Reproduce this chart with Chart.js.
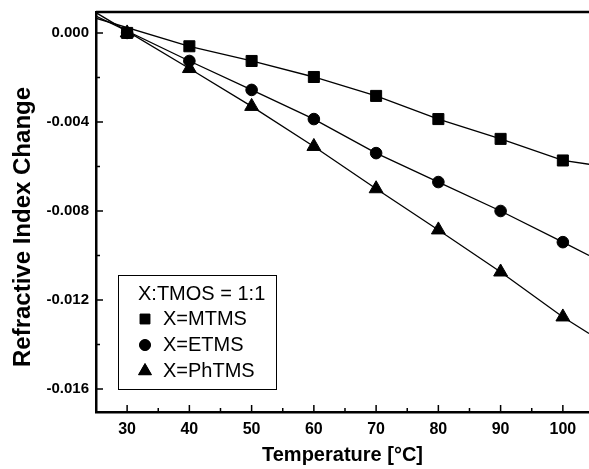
<!DOCTYPE html>
<html>
<head>
<meta charset="utf-8">
<script src="https://cdn.jsdelivr.net/npm/chart.js@4"></script>
<style>
    html, body { margin: 0; padding: 0; background: #fff; }
    #wrap { width: 589px; height: 469px; }
</style>
</head>
<body>
<div id="wrap"><canvas id="chart"></canvas></div>
<script>
// measured points
const temperatures = [30, 40, 50, 60, 70, 80, 90, 100];
const mtms = [0, -0.0006, -0.00126, -0.00198, -0.00283, -0.00387, -0.00476, -0.00573];
const etms = [0, -0.00126, -0.00256, -0.00387, -0.0054, -0.0067, -0.008, -0.0094];
const phtms = [0, -0.0016, -0.0033, -0.0051, -0.007, -0.00885, -0.01074, -0.01276];

const fitTemps = [25, 40, 50, 60, 70, 80, 90, 100, 104.2];
const mtmsFit = [0.00066, -0.0006, -0.00126, -0.00198, -0.00283, -0.00387, -0.00476, -0.00573, -0.0059];
const etmsFit = [0.00076, -0.00126, -0.00256, -0.00387, -0.0054, -0.0067, -0.008, -0.0094, -0.01];
const phtmsFit = [0.00091, -0.0016, -0.0033, -0.0051, -0.007, -0.00885, -0.01074, -0.01276, -0.0135];

const seriesNames = ["X=MTMS", "X=ETMS", "X=PhTMS"];
const legendTitle = "X:TMOS = 1:1";

const xTicks = [30, 40, 50, 60, 70, 80, 90, 100];
const xMinorTicks = [35, 45, 55, 65, 75, 85, 95];
const yTicks = [0, -0.004, -0.008, -0.012, -0.016];
const yMinorTicks = [-0.002, -0.006, -0.01, -0.014];

const FONT = "'Liberation Sans', Arial, sans-serif";
Chart.defaults.font.family = FONT;
Chart.defaults.color = "#000";

const toPoints = (xs, ys) => xs.map((x, i) => ({ x: x, y: ys[i] }));

function fitLine(values) {
    return {
        data: toPoints(fitTemps, values),
        showLine: true,
        borderColor: "#000",
        borderWidth: 1.3,
        pointRadius: 0,
        fill: false,
    };
}

function markers(label, values, style, radius) {
    return {
        label: label,
        data: toPoints(temperatures, values),
        showLine: false,
        pointStyle: style,
        pointRadius: radius,
        pointBorderWidth: 1,
        pointBackgroundColor: "#000",
        pointBorderColor: "#000",
    };
}

// inward ticks, top frame, y title and the boxed legend
const decor = {
    id: "decor",
    afterDraw(chart) {
        const { ctx, chartArea: area, scales } = chart;
        const x = scales.x;
        const y = scales.y;

        ctx.save();
        ctx.strokeStyle = "#000";
        ctx.lineWidth = 1.5;
        ctx.beginPath();
        xTicks.forEach(v => {
            const px = x.getPixelForValue(v);
            ctx.moveTo(px, area.bottom);
            ctx.lineTo(px, area.bottom - 7);
        });
        xMinorTicks.forEach(v => {
            const px = x.getPixelForValue(v);
            ctx.moveTo(px, area.bottom);
            ctx.lineTo(px, area.bottom - 4);
        });
        yTicks.forEach(v => {
            const py = y.getPixelForValue(v);
            ctx.moveTo(area.left, py);
            ctx.lineTo(area.left + 7, py);
        });
        yMinorTicks.forEach(v => {
            const py = y.getPixelForValue(v);
            ctx.moveTo(area.left, py);
            ctx.lineTo(area.left + 4, py);
        });
        ctx.stroke();

        ctx.lineWidth = 2.5;
        ctx.beginPath();
        ctx.moveTo(area.left, area.top);
        ctx.lineTo(area.right, area.top);
        ctx.stroke();

        // y title
        ctx.save();
        ctx.translate(23, 227);
        ctx.rotate(-Math.PI / 2);
        ctx.font = "bold 24px " + FONT;
        ctx.fillStyle = "#000";
        ctx.textAlign = "center";
        ctx.textBaseline = "middle";
        ctx.fillText("Refractive Index Change", 0, 0);
        ctx.restore();

        // legend box
        ctx.lineWidth = 1;
        ctx.strokeRect(118.5, 275.5, 158, 114);
        ctx.font = "20px " + FONT;
        ctx.fillStyle = "#000";
        ctx.textAlign = "left";
        ctx.textBaseline = "middle";
        ctx.fillText(legendTitle, 138, 294);

        const rows = [319, 345, 371];
        const sizes = [7, 5.5, 7.5];
        const markerSets = chart.data.datasets.filter(d => d.label);
        markerSets.forEach((ds, i) => {
            Chart.helpers.drawPoint(ctx, {
                pointStyle: ds.pointStyle,
                radius: sizes[i],
                rotation: 0,
                borderWidth: 1,
            }, 145, rows[i]);
            ctx.fillStyle = "#000";
            ctx.fill();
            ctx.fillText(seriesNames[i], 163, rows[i]);
        });
        ctx.restore();
    },
};

new Chart(document.getElementById("chart"), {
    type: "scatter",
    data: {
        datasets: [
            fitLine(mtmsFit),
            fitLine(etmsFit),
            fitLine(phtmsFit),
            markers(seriesNames[0], mtms, "rect", 7.8),
            markers(seriesNames[1], etms, "circle", 5.8),
            markers(seriesNames[2], phtms, "triangle", 8),
        ],
    },
    options: {
        responsive: true,
        maintainAspectRatio: false,
        animation: false,
        layout: {
            autoPadding: false,
            padding: { top: 12, right: 0, left: 0, bottom: 0 },
        },
        plugins: {
            legend: { display: false },
            tooltip: { enabled: false },
        },
        scales: {
            x: {
                type: "linear",
                min: 25,
                max: 104.2,
                afterBuildTicks: s => { s.ticks = xTicks.map(v => ({ value: v })); },
                afterFit: s => {
                    s.height = 57;
                    s.paddingLeft = 0;
                    s.paddingRight = 0;
                },
                ticks: {
                    font: { size: 16, weight: "bold" },
                    color: "#000",
                    padding: 8,
                    maxRotation: 0,
                    autoSkip: false,
                },
                grid: { display: false, drawTicks: false },
                border: { color: "#000", width: 2.5 },
                title: {
                    display: true,
                    text: "Temperature [°C]",
                    font: { size: 20, weight: "bold" },
                    color: "#000",
                    padding: { top: 0, bottom: 2 },
                },
            },
            y: {
                type: "linear",
                min: -0.01703,
                max: 0.00094,
                afterBuildTicks: s => { s.ticks = yTicks.map(v => ({ value: v })); },
                afterFit: s => {
                    s.width = 96;
                    s.paddingTop = 0;
                    s.paddingBottom = 0;
                },
                ticks: {
                    font: { size: 15, weight: "bold" },
                    color: "#000",
                    padding: 7,
                    callback: v => Number(v).toFixed(3),
                },
                grid: { display: false, drawTicks: false },
                border: { color: "#000", width: 2.5 },
            },
        },
    },
    plugins: [decor],
});
</script>
</body>
</html>
